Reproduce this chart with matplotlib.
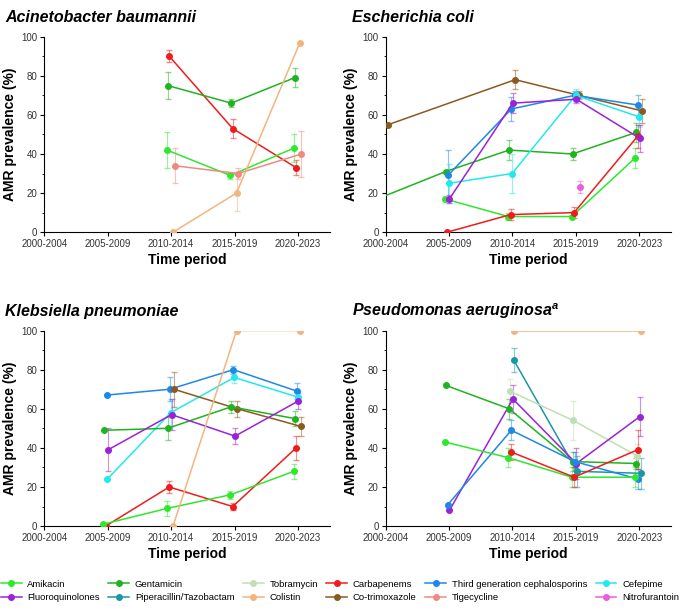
import matplotlib
matplotlib.use("Agg")
import matplotlib.pyplot as plt
from matplotlib.lines import Line2D

periods = ["2000-2004", "2005-2009", "2010-2014", "2015-2019", "2020-2023"]
drugs = ["Amikacin", "Gentamicin", "Tobramycin", "Carbapenems", "Third generation cephalosporins",
         "Cefepime", "Fluoroquinolones", "Piperacillin/Tazobactam", "Colistin", "Co-trimoxazole",
         "Tigecycline", "Nitrofurantoin"]
colors = ["#2ee82e", "#1fb41f", "#bfe0b5", "#ee1c1c", "#1e88e8", "#22e8f0", "#9b22d6",
          "#1a98a8", "#f2b57f", "#8b5a1e", "#ee8a80", "#e860d8"]
N = None

ab_values = {
    "Carbapenems": [N, N, 90, 53, 33],
    "Gentamicin": [N, N, 75, 66, 79],
    "Amikacin": [N, N, 42, 29, 43],
    "Tigecycline": [N, N, 34, 30, 40],
    "Colistin": [N, N, 0, 20, 97],
}
ab_err = {
    "Carbapenems": [0, 0, 3, 5, 4], "Gentamicin": [0, 0, 7, 2, 5], "Amikacin": [0, 0, 9, 2, 7],
    "Tigecycline": [0, 0, 9, 3, 12], "Colistin": [0, 0, 0, 9, 0],
}
ec_values = {
    "Co-trimoxazole": [55, N, 78, 70, 62],
    "Gentamicin": [18, 31, 42, 40, 51],
    "Amikacin": [N, 17, 8, 8, 38],
    "Carbapenems": [N, 0, 9, 10, 49],
    "Third generation cephalosporins": [N, 29, 63, 70, 65],
    "Cefepime": [N, 25, 30, 70, 59],
    "Fluoroquinolones": [N, 17, 66, 68, 48],
    "Nitrofurantoin": [N, N, N, 23, N],
}
ec_err = {
    "Co-trimoxazole": [0, 0, 5, 2, 6], "Gentamicin": [0, 0, 5, 3, 5], "Amikacin": [0, 0, 2, 1, 5],
    "Carbapenems": [0, 0, 3, 3, 6], "Third generation cephalosporins": [0, 13, 6, 2, 5],
    "Cefepime": [0, 10, 10, 3, 5], "Fluoroquinolones": [0, 2, 5, 2, 7], "Nitrofurantoin": [0, 0, 0, 3, 0],
}
kp_values = {
    "Third generation cephalosporins": [N, 67, 70, 80, 69],
    "Cefepime": [N, 24, 58, 76, 66],
    "Co-trimoxazole": [N, N, 70, 60, 51],
    "Gentamicin": [N, 49, 50, 61, 55],
    "Fluoroquinolones": [N, 39, 57, 46, 64],
    "Carbapenems": [N, 0, 20, 10, 40],
    "Amikacin": [N, 1, 9, 16, 28],
    "Colistin": [N, N, 0, 100, 100],
}
kp_err = {
    "Third generation cephalosporins": [0, 0, 6, 2, 4], "Cefepime": [0, 0, 7, 3, 3],
    "Co-trimoxazole": [0, 0, 9, 4, 5], "Gentamicin": [0, 0, 6, 3, 4], "Fluoroquinolones": [0, 11, 8, 4, 4],
    "Carbapenems": [0, 0, 3, 2, 6], "Amikacin": [0, 0, 4, 2, 4], "Colistin": [0, 0, 0, 0, 0],
}
pa_values = {
    "Colistin": [N, N, 100, N, 100],
    "Piperacillin/Tazobactam": [N, N, 85, 28, 27],
    "Tobramycin": [N, N, 69, 54, 36],
    "Fluoroquinolones": [N, 8, 65, 32, 56],
    "Gentamicin": [N, 72, 60, 33, 32],
    "Third generation cephalosporins": [N, 11, 49, 33, 24],
    "Amikacin": [N, 43, 35, 25, 25],
    "Carbapenems": [N, N, 38, 25, 39],
}
pa_err = {
    "Colistin": [0, 0, 0, 0, 0], "Piperacillin/Tazobactam": [0, 0, 6, 8, 8], "Tobramycin": [0, 0, 6, 10, 6],
    "Fluoroquinolones": [0, 0, 7, 8, 10], "Gentamicin": [0, 0, 5, 5, 3],
    "Third generation cephalosporins": [0, 0, 5, 5, 5], "Amikacin": [0, 0, 5, 5, 5], "Carbapenems": [0, 0, 4, 5, 10],
}

titles = ["Acinetobacter baumannii", "Escherichia coli", "Klebsiella pneumoniae", "Pseudomonas aeruginosa"]
panels = [(ab_values, ab_err), (ec_values, ec_err), (kp_values, kp_err), (pa_values, pa_err)]
offsets = {d: (i - 5.5) * 0.012 for i, d in enumerate(drugs)}

plt.rcParams['font.family'] = ['Liberation Sans', 'DejaVu Sans']
fig = plt.figure(figsize=(6.8, 6.11), dpi=100)
boxes = [(0.065, 0.62, 0.42, 0.32), (0.567, 0.62, 0.42, 0.32),
         (0.065, 0.139, 0.42, 0.32), (0.567, 0.139, 0.42, 0.32)]
title_pos = [(0.008, 0.972), (0.518, 0.972), (0.008, 0.49), (0.518, 0.49)]
for (vals, errs), title, box, tp in zip(panels, titles, boxes, title_pos):
    ax = fig.add_axes(box)
    for d, v in vals.items():
        c = colors[drugs.index(d)]
        xs = [i + offsets[d] for i, y in enumerate(v) if y is not None]
        ys = [y for y in v if y is not None]
        es = [errs[d][i] for i, y in enumerate(v) if y is not None]
        ax.errorbar(xs, ys, yerr=es, fmt='none', ecolor=c, elinewidth=0.8, capsize=2, alpha=0.5, zorder=2)
        ax.plot(xs, ys, color=c, lw=1.1, marker='o', ms=4, zorder=3)
    ax.set_xlim(0, 4.5)
    ax.set_ylim(0, 100)
    ax.set_xticks(range(5))
    ax.set_xticklabels(periods, fontsize=7, color="#333333")
    ax.set_yticks(range(0, 101, 20))
    ax.set_yticks(range(0, 101, 10), minor=True)
    ax.tick_params(labelsize=7, labelcolor="#333333", direction='out', length=3, pad=2)
    ax.tick_params(which='minor', length=1.5)
    for s in ["top", "right"]:
        ax.spines[s].set_visible(False)
    ax.set_xlabel("Time period", fontsize=10, fontweight='bold', labelpad=3)
    ax.set_ylabel("AMR prevalence (%)", fontsize=10, fontweight='bold', labelpad=3)
    label = title + "$^{\\mathregular{a}}$" if title.startswith("Pseudomonas") else title
    fig.text(tp[0], tp[1], label, fontsize=11.5, fontweight='bold', style='italic', va='center')

handles = [Line2D([0], [0], color=c, marker='o', ms=4, lw=1.1) for c in colors]
ncol = 6
order = [r * ncol + c for c in range(ncol) for r in range(2)]
fig.legend([handles[i] for i in order], [drugs[i] for i in order], loc='lower center',
           bbox_to_anchor=(0.5, 0.0), ncol=ncol, frameon=False,
           fontsize=6.8, handlelength=2.2, columnspacing=0.9, handletextpad=0.6)
fig.savefig("out.png", dpi=100)
